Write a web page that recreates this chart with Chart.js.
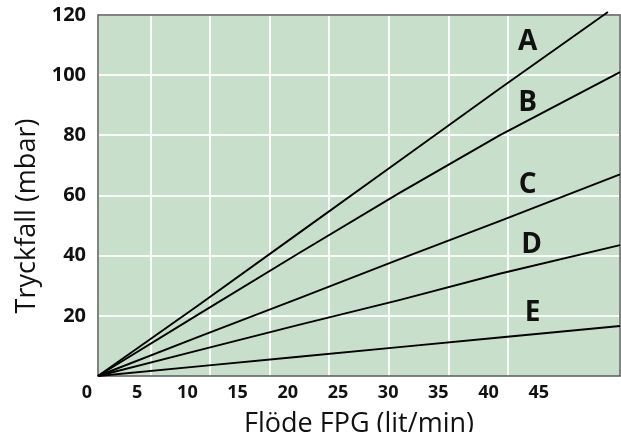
<!DOCTYPE html>
<html>
<head>
<meta charset="utf-8">
<script src="https://cdn.jsdelivr.net/npm/chart.js@4/dist/chart.umd.min.js"></script>
<style>
  body { margin: 0; background: #fff; }
  #wrap { width: 621px; height: 432px; }
</style>
</head>
<body>
<div id="wrap"><canvas id="myChart-1"></canvas></div>
<script>
// flow (lit/min) and pressure drop (mbar)
var seriesNames = ["A", "B", "C", "D", "E"];
var flowA = [0, 10, 20, 30, 40, 50.8];
var flow = [0, 10, 20, 30, 40, 52];
var tryckA = [0, 23.5, 47.5, 71.5, 95.5, 121];
var tryckB = [0, 20.5, 40.8, 60.8, 80, 101];
var tryckC = [0, 13, 25.8, 38.8, 51.5, 67];
var tryckD = [0, 8.5, 17, 25.2, 34, 43.5];
var tryckE = [0, 3.2, 6.4, 9.6, 12.8, 16.6];

// where the curve letters sit (data units)
var nameFlow = [42.8, 42.8, 42.8, 43.2, 43.3];
var nameTryck = [111, 90.7, 63.5, 43.5, 21];

var xTicks = [0, 5, 10, 15, 20, 25, 30, 35, 40, 45];
var yTicks = [20, 40, 60, 80, 100, 120];

function pts(xs, ys) {
  return xs.map(function (x, i) { return { x: x, y: ys[i] }; });
}

var series = [
  pts(flowA, tryckA),
  pts(flow, tryckB),
  pts(flow, tryckC),
  pts(flow, tryckD),
  pts(flow, tryckE),
];

var FONT = "'Open Sans', 'DejaVu Sans', sans-serif";
var INK = "#111";

var decor = {
  id: "decor",
  beforeDraw: function (chart) {
    var a = chart.chartArea, c = chart.ctx;
    c.save();
    c.fillStyle = "#c8dfcb";
    c.fillRect(a.left, a.top, a.right - a.left, a.bottom - a.top);
    c.restore();
  },
  beforeDatasetsDraw: function (chart) {
    var a = chart.chartArea, c = chart.ctx;
    c.save();
    c.strokeStyle = "#5a5a5a";
    c.lineWidth = 1.5;
    c.strokeRect(a.left, a.top, a.right - a.left, a.bottom - a.top);
    c.restore();
  },
  afterDatasetsDraw: function (chart) {
    var c = chart.ctx, xs = chart.scales.x, ys = chart.scales.y;
    c.save();
    c.fillStyle = INK;
    c.font = "bold 28px " + FONT;
    c.textAlign = "center";
    c.textBaseline = "middle";
    seriesNames.forEach(function (n, i) {
      c.fillText(n, xs.getPixelForValue(nameFlow[i]), ys.getPixelForValue(nameTryck[i]));
    });
    // y axis title
    c.font = "27px " + FONT;
    c.translate(27, 216);
    c.rotate(-Math.PI / 2);
    c.fillText("Tryckfall (mbar)", 0, 0);
    c.restore();
  },
};

var ctx = document.getElementById("myChart-1").getContext("2d");
var myChart = new Chart(ctx, {
  type: "line",
  data: {
    datasets: series.map(function (d, i) {
      return {
        label: seriesNames[i],
        data: d,
        borderColor: "#000",
        borderWidth: 1.9,
        pointRadius: 0,
        tension: 0,
        clip: false,
      };
    }),
  },
  options: {
    responsive: true,
    maintainAspectRatio: false,
    animation: false,
    layout: { padding: { right: 1 } },
    plugins: {
      legend: { display: false },
      tooltip: { enabled: false },
    },
    scales: {
      x: {
        type: "linear",
        min: 0,
        max: 52,
        afterBuildTicks: function (s) {
          s.ticks = xTicks.map(function (v) { return { value: v }; });
        },
        afterFit: function (s) {
          s.height = 56;
          s.paddingLeft = 0;
          s.paddingRight = 0;
        },
        grid: { display: false, drawTicks: false },
        border: { display: false },
        ticks: {
          labelOffset: -11,
          padding: 6,
          autoSkip: false,
          maxRotation: 0,
          color: INK,
          font: { family: FONT, size: 18, weight: "bold" },
        },
        title: {
          display: true,
          text: "Flöde FPG (lit/min)",
          color: INK,
          font: { family: FONT, size: 27, lineHeight: 1 },
          padding: { top: 0, bottom: -6 },
        },
      },
      // white grid, evenly spaced cells that do not follow the tick labels
      xg: {
        type: "linear",
        position: "top",
        min: 0.116,
        max: 8.874,
        afterFit: function (s) {
          s.height = 15;
          s.paddingLeft = 0;
          s.paddingRight = 0;
        },
        ticks: { display: false, stepSize: 1 },
        grid: { color: "rgba(255,255,255,0.9)", lineWidth: 2, drawTicks: false },
        border: { display: false },
      },
      y: {
        min: 0,
        max: 120,
        afterBuildTicks: function (s) {
          s.ticks = yTicks.map(function (v) { return { value: v }; });
        },
        afterFit: function (s) {
          s.width = 98;
          s.paddingTop = 0;
          s.paddingBottom = 0;
        },
        grid: { color: "rgba(255,255,255,0.9)", lineWidth: 2, drawTicks: false },
        border: { display: false },
        ticks: {
          padding: 12,
          color: INK,
          font: { family: FONT, size: 20, weight: "bold" },
        },
      },
    },
  },
  plugins: [decor],
});
</script>
</body>
</html>
